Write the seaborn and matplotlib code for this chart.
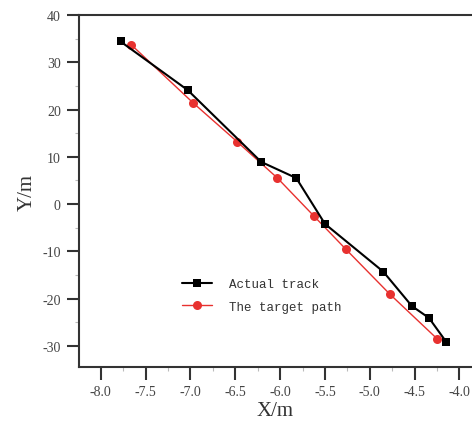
import numpy as np
import pandas as pd
import matplotlib
matplotlib.use("Agg")
import matplotlib.pyplot as plt
import seaborn as sns
from matplotlib.ticker import MultipleLocator

# Actual track (black squares)
actual_x = [-7.78, -7.03, -6.21, -5.82, -5.50, -4.85, -4.53, -4.34, -4.15]
actual_y = [34.4, 24.1, 8.9, 5.5, -4.2, -14.3, -21.6, -24.1, -29.1]

# Target path (red circles)
target_x = [-7.66, -6.97, -6.48, -6.03, -5.62, -5.27, -4.78, -4.25]
target_y = [33.7, 21.4, 13.2, 5.5, -2.6, -9.5, -19.0, -28.5]

x_ticks = [-8.0, -7.5, -7.0, -6.5, -6.0, -5.5, -5.0, -4.5, -4.0]
y_ticks = [-30, -20, -10, 0, 10, 20, 30, 40]

sns.set_style("ticks")
plt.rcParams['font.family'] = ['Liberation Serif', 'DejaVu Serif']

df_actual = pd.DataFrame({'x': actual_x, 'y': actual_y})
df_target = pd.DataFrame({'x': target_x, 'y': target_y})

fig = plt.figure(figsize=(4.72, 4.27), dpi=100)
ax = fig.add_axes([0.167, 0.138, 0.833, 0.8245])

sns.lineplot(data=df_actual, x='x', y='y', sort=False, ax=ax, color='black',
             linewidth=1.5, marker='s', markersize=6, markeredgewidth=0,
             label='Actual track', zorder=3)
sns.lineplot(data=df_target, x='x', y='y', sort=False, ax=ax, color='#e8312f',
             linewidth=1.0, marker='o', markersize=6.5, markeredgewidth=0,
             label='The target path', zorder=2)

ax.set_xlim(-8.245, -3.86)
ax.set_ylim(-34.5, 40)
ax.set_xticks(x_ticks)
ax.set_yticks(y_ticks)
ax.xaxis.set_minor_locator(MultipleLocator(0.25))
ax.yaxis.set_minor_locator(MultipleLocator(5))
ax.set_xticklabels([f"{v:.1f}" for v in x_ticks])
ax.set_yticklabels([str(v) for v in y_ticks])

for side in ['left', 'top', 'bottom']:
    ax.spines[side].set_color('#333333')
    ax.spines[side].set_linewidth(1.5)
ax.spines['right'].set_visible(False)

ax.tick_params(axis='both', which='major', direction='out', length=9, width=1.5,
               color='#333333', labelsize=10, labelcolor='#444444', pad=4)
ax.tick_params(axis='both', which='minor', direction='out', length=3, width=0.8,
               color='#bbbbbb')
ax.tick_params(axis='x', which='both', top=False)

ax.set_xlabel('X/m', fontsize=15, color='#333333', labelpad=2)
ax.set_ylabel('Y/m', fontsize=15, color='#333333', labelpad=4)

leg = ax.legend(loc='upper left', bbox_to_anchor=(0.235, 0.285), frameon=False,
                prop={'family': 'Liberation Mono', 'size': 9}, handlelength=2.4,
                labelspacing=0.85, handletextpad=1.3)
for t in leg.get_texts():
    t.set_color('#333333')

fig.savefig('out.png', dpi=100)
